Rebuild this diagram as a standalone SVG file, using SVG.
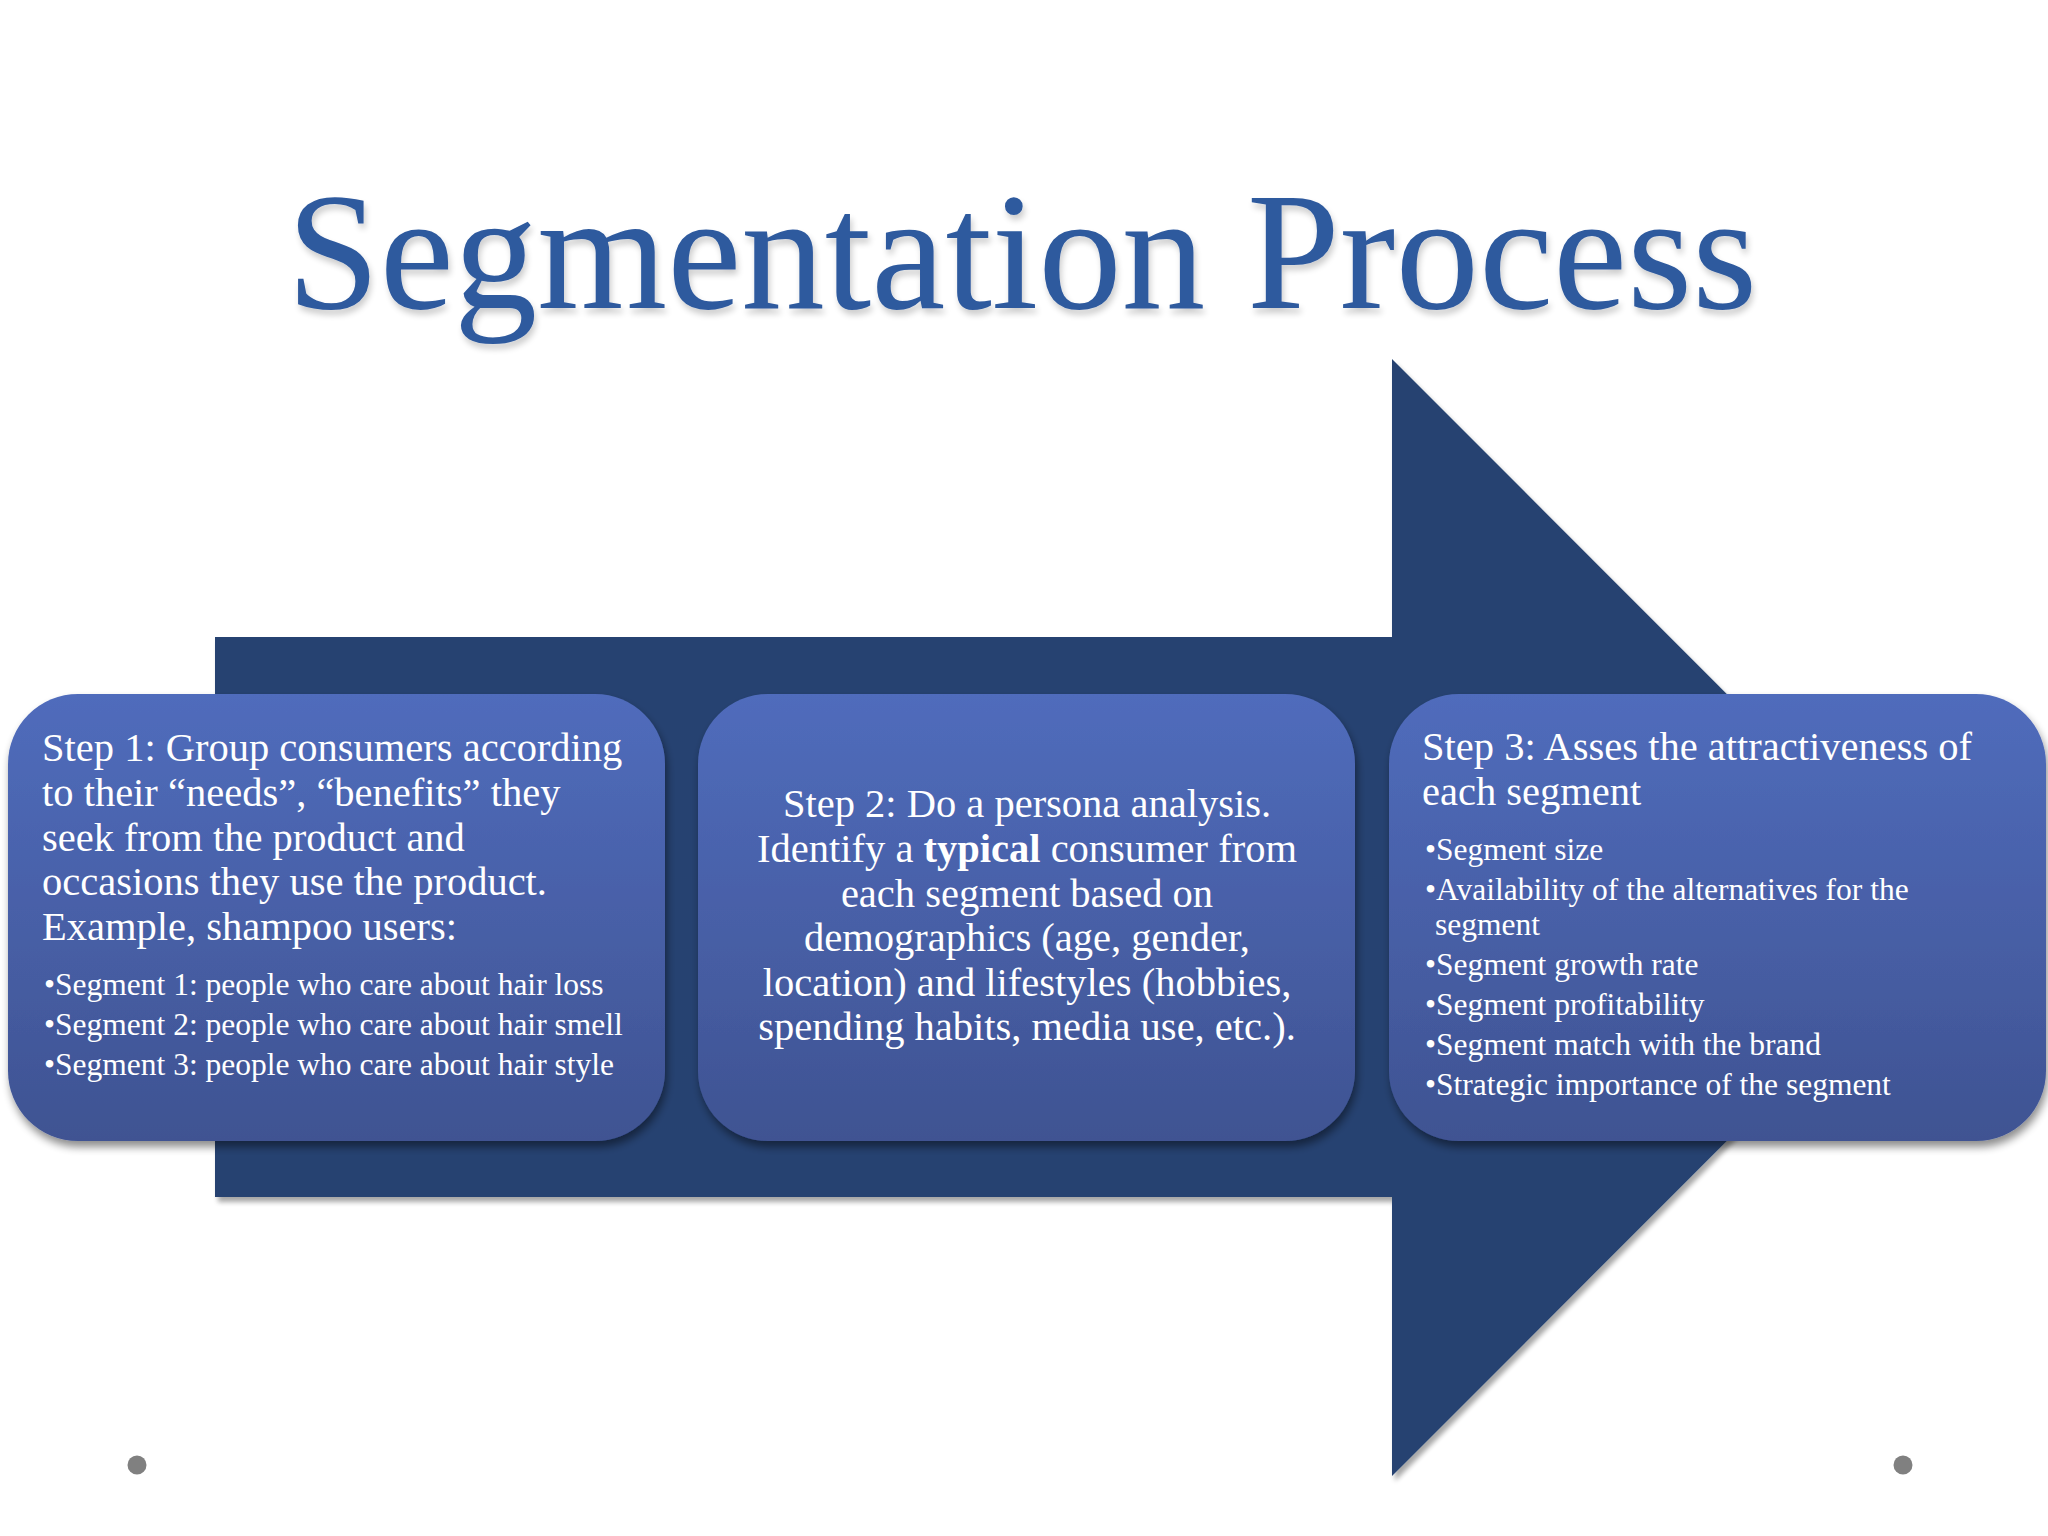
<svg xmlns="http://www.w3.org/2000/svg" width="2048" height="1536" viewBox="0 0 2048 1536">
<defs>
<linearGradient id="boxGrad" x1="0" y1="0" x2="0" y2="1">
<stop offset="0" stop-color="#506CBC"/>
<stop offset="1" stop-color="#3F5392"/>
</linearGradient>
<filter id="arrowShadow" x="-5%" y="-5%" width="115%" height="115%">
<feGaussianBlur in="SourceAlpha" stdDeviation="2.5"/>
<feOffset dx="3" dy="5" result="b"/>
<feComponentTransfer><feFuncA type="linear" slope="0.35"/></feComponentTransfer>
<feMerge><feMergeNode/><feMergeNode in="SourceGraphic"/></feMerge>
</filter>
<filter id="boxShadow" x="-5%" y="-5%" width="115%" height="120%">
<feGaussianBlur in="SourceAlpha" stdDeviation="4"/>
<feOffset dx="2" dy="6" result="b"/>
<feComponentTransfer><feFuncA type="linear" slope="0.45"/></feComponentTransfer>
<feMerge><feMergeNode/><feMergeNode in="SourceGraphic"/></feMerge>
</filter>
<filter id="titleShadow" x="-5%" y="-10%" width="110%" height="130%">
<feGaussianBlur in="SourceAlpha" stdDeviation="3"/>
<feOffset dx="2" dy="5" result="b"/>
<feComponentTransfer><feFuncA type="linear" slope="0.2"/></feComponentTransfer>
<feMerge><feMergeNode/><feMergeNode in="SourceGraphic"/></feMerge>
</filter>
</defs>
<style>
.box { fill: url(#boxGrad); filter: url(#boxShadow); }
.t { font-family: "Liberation Serif", "Times New Roman", serif; fill: #FFFFFF; font-size: 40.5px; }
.b { font-family: "Liberation Serif", "Times New Roman", serif; fill: #FFFFFF; font-size: 31.5px; }
.title { font-family: "Liberation Serif", "Times New Roman", serif; fill: #2F5A9E; font-size: 167px; }
.dot { fill: #808080; }
</style>
<rect x="0" y="0" width="2048" height="1536" fill="#FFFFFF"/>

<g id="title">
<text class="title" x="1022" y="308" text-anchor="middle" filter="url(#titleShadow)">Segmentation Process</text>
</g>

<g id="arrow">
<polygon points="215,637 1392,637 1392,359 1950,917.5 1392,1476 1392,1197 215,1197" fill="#254371" filter="url(#arrowShadow)"/>
</g>

<g id="step1">
<rect class="box" x="8" y="694" width="657" height="447" rx="70" ry="70"/>
<text class="t" x="42" y="761">Step 1: Group consumers according</text>
<text class="t" x="42" y="806">to their “needs”, “benefits” they</text>
<text class="t" x="42" y="851">seek from the product and</text>
<text class="t" x="42" y="895">occasions they use the product.</text>
<text class="t" x="42" y="940">Example, shampoo users:</text>
<text class="b" x="44" y="995">•Segment 1: people who care about hair loss</text>
<text class="b" x="44" y="1035">•Segment 2: people who care about hair smell</text>
<text class="b" x="44" y="1075">•Segment 3: people who care about hair style</text>
</g>

<g id="step2">
<rect class="box" x="698" y="694" width="657" height="447" rx="70" ry="70"/>
<g text-anchor="middle">
<text class="t" x="1027" y="817">Step 2: Do a persona analysis.</text>
<text class="t" x="1027" y="862">Identify a <tspan font-weight="bold">typical</tspan> consumer from</text>
<text class="t" x="1027" y="907">each segment based on</text>
<text class="t" x="1027" y="951">demographics (age, gender,</text>
<text class="t" x="1027" y="996">location) and lifestyles (hobbies,</text>
<text class="t" x="1027" y="1040">spending habits, media use, etc.).</text>
</g>
</g>

<g id="step3">
<rect class="box" x="1389" y="694" width="657" height="447" rx="70" ry="70"/>
<text class="t" x="1422" y="760">Step 3: Asses the attractiveness of</text>
<text class="t" x="1422" y="805">each segment</text>
<text class="b" x="1425" y="860">•Segment size</text>
<text class="b" x="1425" y="900">•Availability of the alternatives for the</text>
<text class="b" x="1435" y="935">segment</text>
<text class="b" x="1425" y="975">•Segment growth rate</text>
<text class="b" x="1425" y="1015">•Segment profitability</text>
<text class="b" x="1425" y="1055">•Segment match with the brand</text>
<text class="b" x="1425" y="1095">•Strategic importance of the segment</text>
</g>

<g id="dots">
<circle class="dot" cx="137" cy="1465" r="9.5"/>
<circle class="dot" cx="1903" cy="1465" r="9.5"/>
</g>
</svg>
